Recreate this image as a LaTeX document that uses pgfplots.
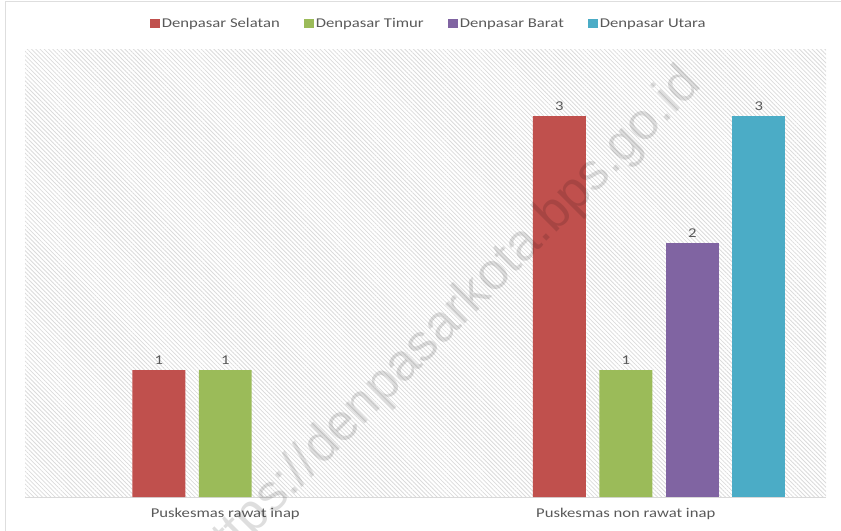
\documentclass[border=0pt]{standalone}
\usepackage{pgfplots}
\pgfplotsset{compat=1.18}
\usepackage{fontspec}
\setmainfont{Carlito}[FakeStretch=1.24]
\newfontfamily\wmfont{Liberation Sans}
\usetikzlibrary{patterns.meta}
\definecolor{cS}{HTML}{C0504D}
\definecolor{cT}{HTML}{9BBB59}
\definecolor{cB}{HTML}{8064A2}
\definecolor{cU}{HTML}{4BACC6}
\definecolor{txt}{HTML}{595959}
\begin{document}
\begin{tikzpicture}[x=1bp,y=1bp]
\useasboundingbox (0,0) rectangle (841,-531);
\draw[color=black!13, line width=1bp] (5,-540) -- (5,-2) -- (850,-2);
\begin{axis}[
  at={(25bp,-497bp)}, anchor=south west,
  scale only axis, width=801bp, height=447bp,
  xmin=-0.5, xmax=1.5, ymin=0, ymax=3.52,
  axis y line=none, axis x line*=bottom,
  x axis line style={draw=black!15, line width=1bp},
  xtick={0,1}, xticklabels={Puskesmas rawat inap, Puskesmas non rawat inap},
  major tick length=0, ytick=\empty,
  /pgf/number format/assume math mode=true,
  ticklabel style={font=\fontsize{13.5}{16}\selectfont, text=txt},
  xticklabel style={yshift=-8bp},
  axis background/.style={pattern={Lines[angle=-45,distance=3bp,line width=0.8bp]}, pattern color=black!14},
  ybar, bar width=0.1323,
  nodes near coords,
  nodes near coords style={font=\fontsize{13.5}{16}\selectfont, text=txt, anchor=south, yshift=2bp},
  every axis plot/.append style={draw=none},
  legend style={at={(0.504,1)}, anchor=center, yshift=26bp, draw=none, fill=none,
    legend columns=4, font=\fontsize{13.5}{16}\selectfont, text=txt,
    /tikz/every even column/.append style={column sep=22bp}},
  legend image code/.code={\fill[#1] (-3bp,-4bp) rectangle (7bp,5bp);},
  clip=false,
]
\addplot[fill=cS, bar shift=-0.166] coordinates {(0,1) (1,3)};
\addplot[fill=cT, bar shift=0] coordinates {(0,1) (1,1)};
\addplot[fill=cB, bar shift=0.166] coordinates {(1,2)};
\addplot[fill=cU, bar shift=0.332] coordinates {(1,3)};
\legend{Denpasar Selatan, Denpasar Timur, Denpasar Barat, Denpasar Utara}
\end{axis}
\node[rotate=45, text=black, text opacity=0.13, font=\wmfont\fontsize{52}{60}\selectfont] at (448,-322) {https://denpasarkota.bps.go.id};
\end{tikzpicture}
\end{document}
